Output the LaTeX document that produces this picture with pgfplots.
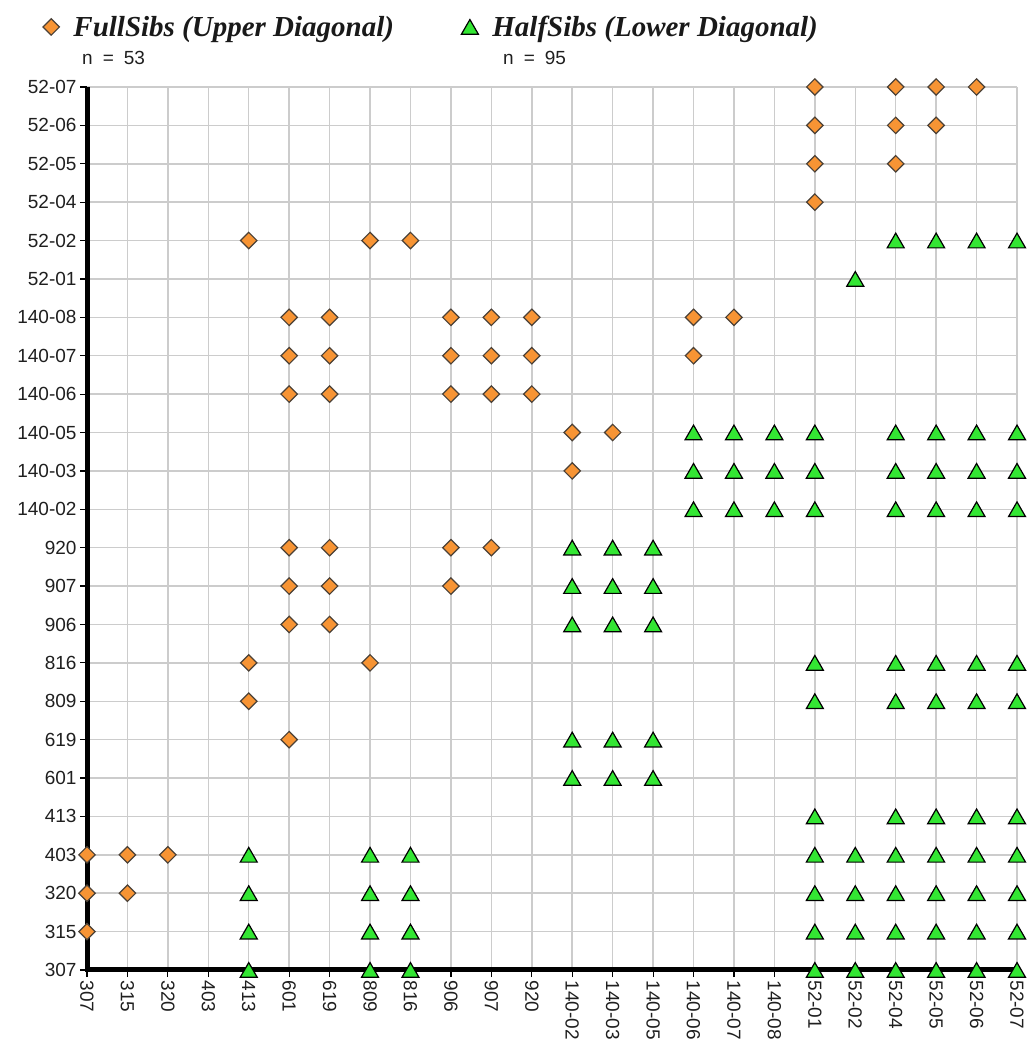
\documentclass[border=0pt]{standalone}
\usepackage{pgfplots}
\usepackage{pgfplotstable}
\pgfplotsset{compat=1.18}
\usepackage{fontspec}
\setmainfont{Liberation Sans}
\newfontfamily\legserif{Liberation Serif}
\definecolor{fsorange}{RGB}{247,148,52}
\definecolor{fsedge}{RGB}{75,65,55}
\definecolor{hsgreen}{RGB}{51,230,51}
\definecolor{gridgray}{RGB}{204,204,204}
\pgfplotsset{mylegimg/.style={legend image code/.code={\draw[mark repeat=2,mark phase=2,##1] plot coordinates {(0bp,0bp) (8.5bp,0bp) (17bp,0bp)};}}}

% x,y are category indices: 0=307,1=315,2=320,3=403,4=413,5=601,6=619,7=809,8=816,
% 9=906,10=907,11=920,12=140-02,13=140-03,14=140-05,15=140-06,16=140-07,17=140-08,
% 18=52-01,19=52-02,20=52-04,21=52-05,22=52-06,23=52-07
\pgfplotstableread{
x y
18 23
20 23
21 23
22 23
18 22
20 22
21 22
18 21
20 21
18 20
4 19
7 19
8 19
5 17
6 17
9 17
10 17
11 17
15 17
16 17
5 16
6 16
9 16
10 16
11 16
15 16
5 15
6 15
9 15
10 15
11 15
12 14
13 14
12 13
5 11
6 11
9 11
10 11
5 10
6 10
9 10
5 9
6 9
4 8
7 8
4 7
5 6
0 3
1 3
2 3
0 2
1 2
0 1
}\fullsibs

\pgfplotstableread{
x y
20 19
21 19
22 19
23 19
19 18
15 14
16 14
17 14
18 14
20 14
21 14
22 14
23 14
15 13
16 13
17 13
18 13
20 13
21 13
22 13
23 13
15 12
16 12
17 12
18 12
20 12
21 12
22 12
23 12
12 11
13 11
14 11
12 10
13 10
14 10
12 9
13 9
14 9
18 8
20 8
21 8
22 8
23 8
18 7
20 7
21 7
22 7
23 7
12 6
13 6
14 6
12 5
13 5
14 5
18 4
20 4
21 4
22 4
23 4
4 3
7 3
8 3
18 3
19 3
20 3
21 3
22 3
23 3
4 2
7 2
8 2
18 2
19 2
20 2
21 2
22 2
23 2
4 1
7 1
8 1
18 1
19 1
20 1
21 1
22 1
23 1
4 0
7 0
8 0
18 0
19 0
20 0
21 0
22 0
23 0
}\halfsibs

\begin{document}
\begin{tikzpicture}[x=1bp,y=1bp]
\useasboundingbox (0,0) rectangle (1028,1039);
\begin{axis}[
  at={(87bp,69bp)}, anchor=south west,
  scale only axis, width=930bp, height=883bp,
  xmin=0, xmax=23, ymin=0, ymax=23,
  clip=false,
  axis x line*=bottom, axis y line*=left,
  axis line style={draw=none},
  xtick={0,...,23}, ytick={0,...,23},
  xticklabels={307,315,320,403,413,601,619,809,816,906,907,920,140-02,140-03,140-05,140-06,140-07,140-08,52-01,52-02,52-04,52-05,52-06,52-07},
  yticklabels={307,315,320,403,413,601,619,809,816,906,907,920,140-02,140-03,140-05,140-06,140-07,140-08,52-01,52-02,52-04,52-05,52-06,52-07},
  grid=major,
  major grid style={draw=gridgray, line width=1.5bp},
  tick align=outside,
  major tick length=7bp,
  tick style={black, line width=1.2bp},
  xticklabel style={rotate=-90, anchor=west, font=\fontsize{19bp}{21bp}\selectfont, text=black!88},
  yticklabel style={anchor=east, font=\fontsize{19bp}{21bp}\selectfont, text=black!88},
  legend columns=2,
  legend style={draw=none, fill=none, inner sep=0pt, outer sep=0pt,
    at={(axis description cs:-0.0473,1.068)}, anchor=west,
    column sep=14bp,
    nodes={inner sep=0pt, font=\legserif\bfseries\itshape\fontsize{29bp}{31bp}\selectfont, text=black!90}},
]
\addplot[only marks, mark=square*, mark size=5.8bp,
  mark options={rotate=45, fill=fsorange, draw=fsedge, line width=1.2bp},
  mylegimg]
  table[x=x,y=y] {\fullsibs};
\addlegendentry{\makebox[374bp][l]{FullSibs (Upper Diagonal)}}
\addplot[only marks, mark=triangle*, mark size=9.8bp,
  mark options={fill=hsgreen, draw=black, line width=1.2bp, yshift=-2.4bp},
  mylegimg]
  table[x=x,y=y] {\halfsibs};
\addlegendentry{HalfSibs (Lower Diagonal)}
\draw[black, line width=5bp, line join=miter] (axis cs:0,23) -- (axis cs:0,0) -- (axis cs:23.08,0);
\end{axis}
\node[anchor=base west, inner sep=0pt, font=\fontsize{19bp}{21bp}\selectfont, text=black!88] at (82,974) {n\hspace{10bp}=\hspace{10bp}53};
\node[anchor=base west, inner sep=0pt, font=\fontsize{19bp}{21bp}\selectfont, text=black!88] at (503,974) {n\hspace{10bp}=\hspace{10bp}95};
\end{tikzpicture}
\end{document}
